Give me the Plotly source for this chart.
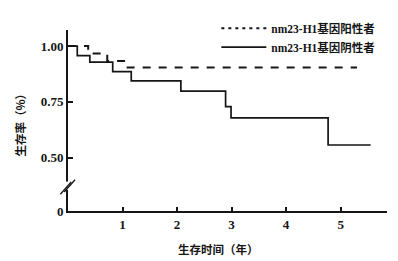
import plotly.graph_objects as go

# Kaplan-Meier survival data
neg_t = [0, 0.17, 0.40, 0.82, 1.16, 2.07, 2.89, 2.99, 4.77, 5.55]
neg_s = [1.00, 0.957, 0.928, 0.885, 0.844, 0.798, 0.728, 0.678, 0.556, 0.556]
pos_t = [0, 0.37, 0.72, 1.05, 5.30]
pos_s = [1.00, 0.967, 0.933, 0.904, 0.904]

pos_name = "nm23-H1基因阳性者"
neg_name = "nm23-H1基因阴性者"
x_ticks = [1, 2, 3, 4, 5]
y_ticks = [0.50, 0.75, 1.00]
y_ticktext = ["0.50", "0.75", "1.00"]
x_title = "生存时间（年）"
y_title = "生存率（%）"

INK = "#151515"
FONT = "Liberation Serif, Noto Sans CJK SC, serif"

Y_BASE = 0.26   # plotted position of the "0" baseline (axis is broken)
X_MAX = 5.85

fig = go.Figure()
fig.add_trace(go.Scatter(x=pos_t, y=pos_s, mode="lines", line_shape="hv",
                         line=dict(color=INK, width=2, dash="8px,8px"),
                         showlegend=False))
fig.add_trace(go.Scatter(x=neg_t, y=neg_s, mode="lines", line_shape="hv",
                         line=dict(color=INK, width=1.7), showlegend=False))
# legend entries
fig.add_trace(go.Scatter(x=[None], y=[None], mode="lines", name=pos_name,
                         line=dict(color=INK, width=2, dash="3px,4px")))
fig.add_trace(go.Scatter(x=[None], y=[None], mode="lines", name=neg_name,
                         line=dict(color=INK, width=1.7)))

fig.update_layout(
    width=398, height=261,
    margin=dict(l=68, r=11, t=30, b=50),
    paper_bgcolor="white", plot_bgcolor="white",
    font=dict(family=FONT, size=12, color=INK),
    legend=dict(x=0.465, y=1.09, xanchor="left", yanchor="top",
                bgcolor="rgba(0,0,0,0)", font=dict(size=11.5, family=FONT, weight="bold"),
                itemwidth=45, tracegroupgap=0),
    xaxis=dict(range=[0, X_MAX], tickvals=x_ticks + [X_MAX],
               ticktext=[str(v) for v in x_ticks] + [""],
               ticks="inside", ticklen=4, tickwidth=1.5, tickcolor=INK,
               showline=True, linewidth=2, linecolor=INK, showgrid=False,
               zeroline=False, tickfont=dict(size=13, weight="bold")),
    yaxis=dict(range=[Y_BASE, 1.072], tickvals=[Y_BASE] + y_ticks,
               ticktext=["0"] + y_ticktext,
               ticks="inside", ticklen=5, tickwidth=1.5, tickcolor=INK,
               showline=True, linewidth=2, linecolor=INK, showgrid=False,
               zeroline=False, tickfont=dict(size=13, weight="bold")),
    annotations=[
        dict(text=x_title, xref="paper", yref="paper", x=(218 - 68) / 319, y=-0.155,
             xanchor="center", yanchor="top", showarrow=False,
             font=dict(size=11.5, weight="bold", family="Noto Sans CJK SC")),
        dict(text=y_title, xref="paper", yref="paper", x=-0.15, y=0.49,
             xanchor="center", yanchor="middle", showarrow=False, textangle=-90,
             font=dict(size=11.5, weight="bold", family="Noto Sans CJK SC")),
    ],
    shapes=[
        # axis break
        dict(type="rect", xref="paper", yref="y", x0=-0.012, x1=0.012,
             y0=0.355, y1=0.392, fillcolor="white", line=dict(width=0)),
        dict(type="line", xref="paper", yref="y", x0=-0.024, x1=0.010,
             y0=0.335, y1=0.390, line=dict(color=INK, width=1.3)),
        dict(type="line", xref="paper", yref="y", x0=-0.012, x1=0.022,
             y0=0.345, y1=0.400, line=dict(color=INK, width=1.3)),
    ],
)

fig.write_html("out.html")
